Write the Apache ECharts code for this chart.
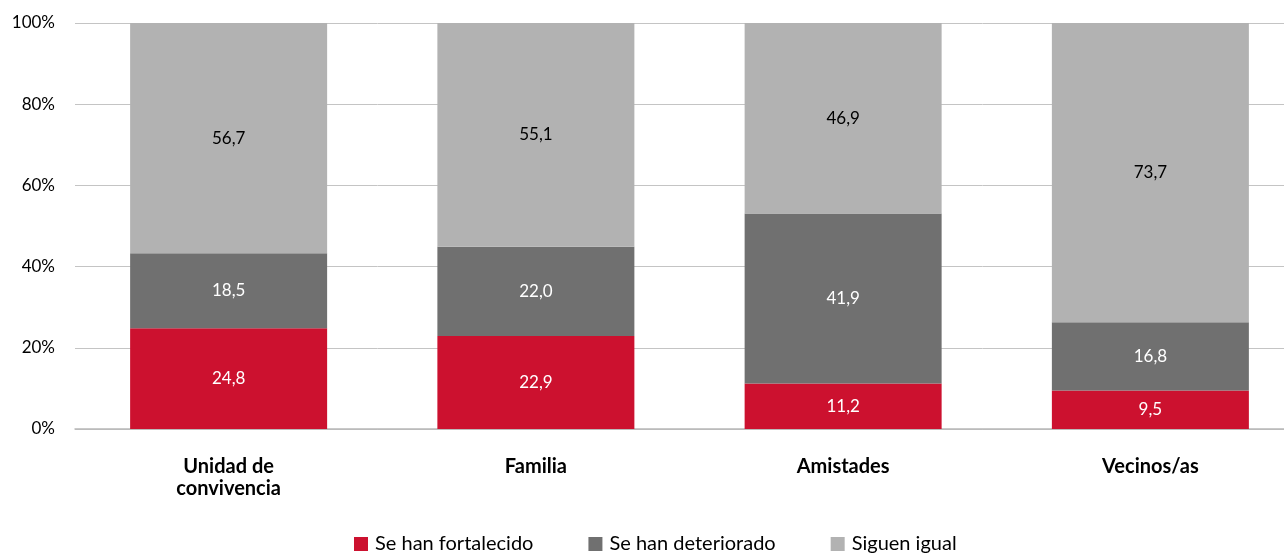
<!DOCTYPE html>
<html><head><meta charset="utf-8">
<script src="https://cdn.jsdelivr.net/npm/echarts@6/dist/echarts.min.js"></script>
<style>html,body{margin:0;padding:0;background:#fff}#c{width:1284px;height:553px}</style>
</head><body><div id="c"></div>
<script>
const categories = ['Unidad de\nconvivencia', 'Familia', 'Amistades', 'Vecinos/as'];
const fortalecido = [24.8, 22.9, 11.2, 9.5];
const deteriorado = [18.5, 22.0, 41.9, 16.8];
const igual = [56.7, 55.1, 46.9, 73.7];
const seriesNames = ['Se han fortalecido', 'Se han deteriorado', 'Siguen igual'];
const yTicks = [0, 20, 40, 60, 80, 100];

const FONT = 'Lato, "Open Sans", sans-serif';
const fmt = p => p.value.toFixed(1).replace('.', ',');
const mk = (name, data, color, labelColor) => ({
  name, type: 'bar', stack: 's', data, barWidth: 197,
  itemStyle: { color },
  label: { show: true, position: 'inside', color: labelColor, fontSize: 17, fontFamily: FONT, formatter: fmt },
  emphasis: { disabled: true }
});
const chart = echarts.init(document.getElementById('c'), null, { renderer: 'canvas' });
chart.setOption({
  animation: false,
  textStyle: { fontFamily: FONT },
  grid: { left: 75, right: -20, top: 23, bottom: 124, outerBoundsMode: 'none', containLabel: false },
  legend: {
    top: 534, left: 354, padding: 0, itemWidth: 14, itemHeight: 14, itemGap: 55,
    icon: 'rect',
    textStyle: { fontSize: 20, color: '#000', fontFamily: FONT, padding: [0, 0, 0, 2] },
    data: seriesNames
  },
  xAxis: {
    type: 'category', data: categories,
    axisLine: { lineStyle: { color: '#b8b8b8', width: 1.5 } },
    axisTick: { show: false },
    axisLabel: { fontWeight: 'bold', fontSize: 20, color: '#000', margin: 27, lineHeight: 22, fontFamily: FONT }
  },
  yAxis: {
    type: 'value', min: 0, max: 100, interval: 20,
    axisLabel: { formatter: v => yTicks.includes(v) ? v + '%' : '', fontSize: 17, color: '#000', margin: 20, fontFamily: FONT },
    splitLine: { lineStyle: { color: '#c4c4c4', width: 1 } },
    axisLine: { show: false }, axisTick: { show: false }
  },
  series: [
    mk(seriesNames[0], fortalecido, '#CC112F', '#fff'),
    mk(seriesNames[1], deteriorado, '#707070', '#fff'),
    mk(seriesNames[2], igual, '#B2B2B2', '#000')
  ]
});
</script></body></html>
